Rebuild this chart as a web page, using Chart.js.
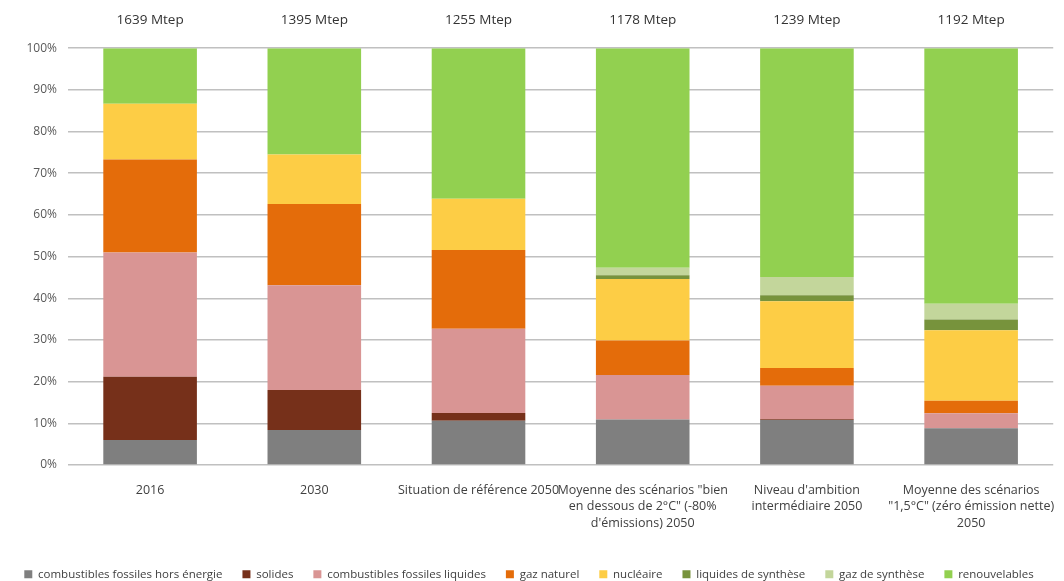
<!DOCTYPE html>
<html>
<head>
<meta charset="utf-8">
<script src="https://cdn.jsdelivr.net/npm/chart.js@4/dist/chart.umd.min.js"></script>
<style>
    html, body { margin: 0; padding: 0; background: #fff; }
    #wrap { width: 1064px; height: 581px; }
</style>
</head>
<body>
<div id="wrap"><canvas id="bar-chart-mix"></canvas></div>
<script>
const categories = [
    "2016",
    "2030",
    "Situation de référence 2050",
    ["Moyenne des scénarios \"bien", "en dessous de 2°C\" (-80%", "d'émissions) 2050"],
    ["Niveau d'ambition", "intermédiaire 2050"],
    ["Moyenne des scénarios", "\"1,5°C\" (zéro émission nette)", "2050"],
];
const totals = ["1639 Mtep", "1395 Mtep", "1255 Mtep", "1178 Mtep", "1239 Mtep", "1192 Mtep"];
const yTicks = [0, 10, 20, 30, 40, 50, 60, 70, 80, 90, 100];

// parts in % of each bar, bottom to top
const horsEnergie = [6.0, 8.4, 10.6, 10.9, 10.8, 8.8];
const solides = [15.2, 9.6, 1.9, 0, 0.2, 0];
const liquidesFossiles = [29.8, 25.1, 20.2, 10.7, 8.0, 3.6];
const gazNaturel = [22.3, 19.5, 18.9, 8.3, 4.3, 3.0];
const nucleaire = [13.4, 11.9, 12.3, 14.7, 16.0, 16.9];
const liquidesSynthese = [0, 0, 0, 0.9, 1.4, 2.6];
const gazSynthese = [0, 0, 0, 1.8, 4.4, 3.8];
const renouvelables = [13.3, 25.5, 36.1, 52.7, 54.9, 61.3];

const fontFamily = "'Open Sans', sans-serif";

function serie(label, data, color) {
    return {
        label: label,
        data: data,
        backgroundColor: color,
        borderWidth: 0,
        barPercentage: 0.57,
        categoryPercentage: 1.0,
    };
}

const ctx = document.getElementById("bar-chart-mix").getContext("2d");

new Chart(ctx, {
    type: "bar",
    data: {
        labels: categories,
        datasets: [
            serie("combustibles fossiles hors énergie", horsEnergie, "#7f7f7f"),
            serie("solides", solides, "#76301a"),
            serie("combustibles fossiles liquides", liquidesFossiles, "#d99594"),
            serie("gaz naturel", gazNaturel, "#e46c0a"),
            serie("nucléaire", nucleaire, "#fdcd45"),
            serie("liquides de synthèse", liquidesSynthese, "#77933c"),
            serie("gaz de synthèse", gazSynthese, "#c3d69b"),
            serie("renouvelables", renouvelables, "#92d050"),
        ],
    },
    options: {
        responsive: true,
        maintainAspectRatio: false,
        animation: false,
        layout: {
            // slightly negative bottom so the legend row sits near the edge
            padding: { left: 0, right: 6, top: 0, bottom: -9 },
        },
        scales: {
            x: {
                stacked: true,
                grid: { display: false },
                border: { display: false },
                afterFit: function (axis) {
                    axis.height = axis.height + 8;
                },
                ticks: {
                    maxRotation: 0,
                    autoSkip: false,
                    padding: 9,
                    color: "#404040",
                    font: { family: fontFamily, size: 12.5, lineHeight: 1.32 },
                },
            },
            x2: {
                type: "category",
                labels: totals,
                position: "top",
                grid: { display: false },
                border: { display: false },
                ticks: {
                    padding: 12,
                    color: "#333",
                    font: { family: fontFamily, size: 13.5 },
                },
            },
            y: {
                stacked: true,
                min: 0,
                max: 100,
                afterBuildTicks: function (axis) {
                    axis.ticks = yTicks.map(function (v) { return { value: v }; });
                },
                afterFit: function (axis) {
                    axis.width = 68;
                },
                grid: {
                    color: "#c0c0c0",
                    lineWidth: 1.5,
                    drawTicks: false,
                },
                border: { display: false },
                ticks: {
                    padding: 11,
                    color: "#595959",
                    font: { family: fontFamily, size: 12 },
                    callback: function (v) { return v + "%"; },
                },
            },
        },
        plugins: {
            legend: {
                position: "bottom",
                labels: {
                    boxWidth: 8,
                    boxHeight: 8,
                    padding: 20,
                    color: "#404040",
                    font: { family: fontFamily, size: 11.5 },
                },
            },
            tooltip: { enabled: false },
        },
    },
});
</script>
</body>
</html>
